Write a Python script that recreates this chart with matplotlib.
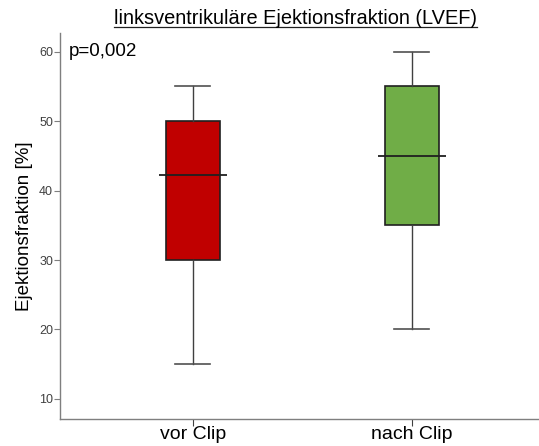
import numpy as np
import matplotlib.pyplot as plt

# box statistics
groups = ['vor Clip', 'nach Clip']
whislo = [15, 20]
q1 = [30, 35]
med = [42.3, 45]
q3 = [50, 55]
whishi = [55, 60]
colors = ['#c00000', '#70ad47']
p_text = 'p=0,002'

plt.rcParams['font.family'] = ['Liberation Sans', 'DejaVu Sans']

fig = plt.figure(figsize=(5.39, 4.46), dpi=100)
ax = fig.add_axes([0.1113, 0.0605, 0.8887, 0.8655])

pos = [1, 2]
stats = []
for i in range(len(groups)):
    stats.append({'whislo': whislo[i], 'q1': q1[i], 'med': med[i],
                  'q3': q3[i], 'whishi': whishi[i], 'fliers': []})

bp = ax.bxp(stats, positions=pos, widths=0.247, patch_artist=True,
            showfliers=False, capwidths=0.16,
            boxprops=dict(edgecolor='#202020', linewidth=1.2),
            whiskerprops=dict(color='#404040', linewidth=1.0),
            capprops=dict(color='#505050', linewidth=1.2),
            medianprops=dict(visible=False))
for b, c in zip(bp['boxes'], colors):
    b.set_facecolor(c)

# median lines are wider than the boxes
ax.hlines(med, np.array(pos) - 0.155, np.array(pos) + 0.155,
          colors='#202020', linewidth=1.3, zorder=3)

ax.set_xlim(0.393, 2.58)
ax.set_ylim(7.1, 62.7)
ax.set_yticks([10, 20, 30, 40, 50, 60])
ax.set_xticks(pos)
ax.set_xticklabels(groups, fontsize=14)

for s in ['top', 'right']:
    ax.spines[s].set_visible(False)
for s in ['left', 'bottom']:
    ax.spines[s].set_color('#7f7f7f')
    ax.spines[s].set_linewidth(1.0)

ax.tick_params(axis='y', length=4, color='#7f7f7f', labelsize=9,
               labelcolor='#404040', pad=1)
ax.tick_params(axis='x', length=5, color='#404040', pad=0,
               labelcolor='black')

ax.set_ylabel('Ejektionsfraktion [%]', fontsize=13.5, labelpad=4)
ax.text(0.019, 0.975, p_text, transform=ax.transAxes, fontsize=13.5,
        va='top', ha='left')

title = fig.text(0.549, 0.958, 'linksventrikuläre Ejektionsfraktion (LVEF)',
                 fontsize=14.4, ha='center', va='center')

# underline the title
fig.canvas.draw()
bb = title.get_window_extent(fig.canvas.get_renderer())
bbf = bb.transformed(fig.transFigure.inverted())
fig.add_artist(plt.Line2D([bbf.x0, bbf.x1], [bbf.y0 + 0.003, bbf.y0 + 0.003],
                          transform=fig.transFigure, color='#202020',
                          linewidth=0.9))

fig.savefig('out.png', dpi=100)
